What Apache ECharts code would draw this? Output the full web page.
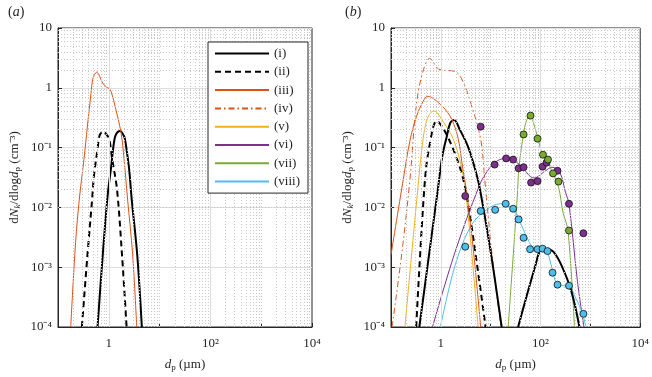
<!DOCTYPE html>
<html>
<head>
<meta charset="utf-8">
<script src="https://cdn.jsdelivr.net/npm/echarts@6/dist/echarts.min.js"></script>
<style>
  html, body { margin: 0; padding: 0; background: #fff; }
  #chart { width: 652px; height: 377px; }
</style>
</head>
<body>
<div id="chart"></div>
<script>
// ---- data: [d_p (um), dN/dlogdp (cm^-3)] ----
// panel (a)
const a_i = [[0.60, 1e-4], [0.76, 1.6e-3], [0.95, 0.016], [1.10, 0.044], [1.26, 0.12], [1.38, 0.166], [1.66, 0.19], [2.0, 0.155], [2.14, 0.12], [2.51, 0.044], [2.82, 0.0138], [3.63, 1.6e-3], [4.47, 1e-4]];
const a_ii = [[0.295, 1e-4], [0.38, 1.6e-3], [0.47, 0.0138], [0.51, 0.034], [0.60, 0.093], [0.66, 0.16], [0.78, 0.186], [0.90, 0.166], [1.02, 0.138], [1.17, 0.063], [1.45, 0.020], [1.82, 1.6e-3], [2.24, 1e-4]];
const a_iii = [[0.178, 1e-4], [0.222, 2.6e-3], [0.263, 0.0138], [0.324, 0.063], [0.38, 0.23], [0.447, 0.81], [0.49, 1.45], [0.575, 1.82], [0.76, 1.2], [0.87, 1.05], [1.0, 0.98], [1.12, 0.85], [1.38, 0.43], [1.74, 0.18], [2.0, 0.063], [2.34, 0.0138], [2.95, 1.6e-3], [3.55, 1e-4]];

// panel (b)
const b_i1 = [[0.37, 1e-4], [0.59, 1.8e-3], [0.89, 0.023], [1.07, 0.072], [1.32, 0.155], [1.55, 0.26], [1.85, 0.29], [2.4, 0.2], [3.47, 0.106], [4.68, 0.049], [5.9, 0.023], [10, 1.8e-3], [16.6, 1e-4]];
const b_i2 = [[35.5, 1e-4], [51, 3e-4], [79, 1.07e-3], [100, 1.9e-3], [135, 2.0e-3], [182, 1.8e-3], [263, 1.07e-3], [417, 3.9e-4], [603, 1e-4]];
const b_ii = [[0.32, 1e-4], [0.47, 0.023], [0.59, 0.106], [0.83, 0.28], [1.15, 0.2], [1.78, 0.093], [2.57, 0.039], [3.3, 0.016], [5.0, 1.6e-3], [7.9, 1e-4]];
const b_iii = [[0.1, 1.6e-3], [0.178, 0.031], [0.24, 0.13], [0.324, 0.33], [0.44, 0.59], [0.54, 0.72], [1.07, 0.49], [1.66, 0.295], [2.24, 0.138], [2.75, 0.045], [3.3, 0.018], [4.6, 1.6e-3], [6.3, 1e-4]];
const b_iv = [[0.105, 1e-4], [0.166, 1.8e-3], [0.24, 0.0295], [0.32, 0.49], [0.43, 1.78], [0.60, 3.1], [0.91, 2.05], [1.93, 1.87], [2.57, 1.45], [3.8, 0.63], [6.3, 0.138], [7.6, 0.029], [10.5, 1.8e-3], [16, 1e-4]];
const b_v = [[0.19, 1e-4], [0.35, 0.023], [0.44, 0.138], [0.54, 0.31], [0.72, 0.41], [1.15, 0.26], [1.78, 0.138], [2.57, 0.049], [3.1, 0.02], [4.2, 1.6e-3], [5.6, 1e-4]];
const b_vi = [[0.68, 1e-4], [1.93, 1.8e-3], [5.9, 0.023], [8.5, 0.04], [13.5, 0.06], [21, 0.066], [38, 0.052], [74, 0.031], [126, 0.041], [170, 0.047], [245, 0.038], [316, 0.018], [372, 0.0115], [550, 5.8e-4], [741, 1e-4]];
const b_vii = [[22.4, 1e-4], [33.9, 0.0138], [37.2, 0.049], [45.7, 0.17], [52, 0.28], [61.7, 0.343], [72, 0.26], [89, 0.141], [110, 0.074], [135, 0.06], [170, 0.04], [229, 0.022], [282, 8.3e-3], [355, 4.1e-3], [479, 1e-4]];
const b_viii = [[0.98, 1e-4], [1.93, 1.07e-3], [4.07, 5e-3], [8.5, 9.3e-3], [15.5, 0.0115], [21, 0.011], [30, 8.9e-3], [38, 6e-3], [51, 3.4e-3], [69, 2.2e-3], [100, 2.04e-3], [135, 1.78e-3], [170, 9.5e-4], [209, 5.4e-4], [282, 4.9e-4], [380, 4.7e-4], [513, 3.0e-4], [692, 1.7e-4], [813, 1e-4]];

// measured points, panel (b)
const pts_vi = [[6.3, 0.224], [3.09, 0.0155], [12.0, 0.052], [20.4, 0.066], [28.2, 0.063], [36.3, 0.045], [45.7, 0.047], [64.6, 0.026], [87.1, 0.0275], [110, 0.048], [132, 0.056], [219, 0.041], [372, 0.0115], [724, 3.7e-3]];
const pts_vii = [[45.7, 0.166], [63, 0.343], [87.1, 0.141], [112, 0.076], [141, 0.063], [178, 0.037], [229, 0.027], [372, 4.1e-3]];
const pts_viii = [[3.09, 2.2e-3], [6.3, 8.7e-3], [12.3, 9.1e-3], [20, 0.0115], [28.2, 9.5e-3], [36.3, 6.3e-3], [45.7, 3.1e-3], [61.7, 2.0e-3], [87.1, 2.0e-3], [110, 2.04e-3], [138, 1.86e-3], [174, 8.1e-4], [219, 5.1e-4], [372, 4.9e-4], [724, 1.66e-4]];

const legendNames = ["(i)", "(ii)", "(iii)", "(iv)", "(v)", "(vi)", "(vii)", "(viii)"];

// tick labels (by decade exponent) and grid decoration positions
const xTickText = { 0: "1", 2: "10\u00b2", 4: "10\u2074" };
const yTickText = { "-4": "10\u207b\u2074", "-3": "10\u207b\u00b3", "-2": "10\u207b\u00b2", "-1": "10\u207b\u00b9", 0: "1", 1: "10" };
const minorSteps = [2, 3, 4, 5, 6, 7, 8, 9];
const xDecades = [0.1, 1, 10, 100, 1000];
const yDecades = [1e-4, 1e-3, 1e-2, 1e-1, 1];
const xMajorLines = [1, 100];
const xMinorDecadeLines = [10, 1000];

const ORANGE = "#D95319", YELLOW = "#EDB120", PURPLE = "#7E2F8E", GREEN = "#77AC30", CYAN = "#4DBEEE";
const FONT = "'Liberation Serif', 'Times New Roman', serif";
const TXT = "#262626";

const rich = {
  t: { fontFamily: FONT, fontSize: 13, color: TXT },
  i: { fontFamily: FONT, fontSize: 13, color: TXT, fontStyle: "italic" },
  sub: { fontFamily: FONT, fontSize: 9, color: TXT, padding: [6, 0, 0, 0] },
  si: { fontFamily: FONT, fontSize: 9, color: TXT, fontStyle: "italic", padding: [6, 0, 0, 0] },
};

function expOf(v) { return Math.round(Math.log10(v)); }
function yLabel(v) { return yTickText[expOf(v)] || ""; }
function xLabel(v) { return xTickText[expOf(v)] || ""; }

function gridSeries(k) {
  const minorStyle = { color: "#c8c8c8", type: [1, 2], width: 1 };
  const majorStyle = { color: "#dedede", type: "solid", width: 1 };
  const lines = [];
  xDecades.forEach(d => minorSteps.forEach(m => lines.push({ xAxis: d * m, lineStyle: minorStyle })));
  xMinorDecadeLines.forEach(v => lines.push({ xAxis: v, lineStyle: minorStyle }));
  xMajorLines.forEach(v => lines.push({ xAxis: v, lineStyle: majorStyle }));
  yDecades.forEach(d => minorSteps.forEach(m => lines.push({ yAxis: d * m, lineStyle: minorStyle })));
  return {
    name: "grid" + k, type: "line", xAxisIndex: k, yAxisIndex: k, z: 0,
    data: [[1, 1]], showSymbol: false, symbol: "none", silent: true,
    lineStyle: { opacity: 0 },
    markLine: { silent: true, symbol: ["none", "none"], label: { show: false }, animation: false, data: lines },
  };
}

function curve(name, k, data, color, width, type) {
  return {
    name, type: "line", xAxisIndex: k, yAxisIndex: k, data, smooth: 0.35,
    symbol: "none", z: 3,
    lineStyle: { color, width, type: type || "solid" },
    itemStyle: { color },
  };
}
function points(name, data, color) {
  return {
    name, type: "scatter", xAxisIndex: 1, yAxisIndex: 1, data, z: 5,
    symbol: "circle", symbolSize: 7,
    itemStyle: { color, borderColor: "#111", borderWidth: 0.8, opacity: 1 },
  };
}

const DASH = [6, 4];
const DASHDOT = [6, 3, 1.5, 3];

const series = [
  gridSeries(0), gridSeries(1),
  curve("(i)", 0, a_i, "#000", 2),
  curve("(ii)", 0, a_ii, "#000", 2, DASH),
  curve("(iii)", 0, a_iii, ORANGE, 1),
  curve("(iv)", 1, b_iv, ORANGE, 1, DASHDOT),
  curve("(v)", 1, b_v, YELLOW, 1),
  curve("(vi)", 1, b_vi, PURPLE, 1),
  curve("(vii)", 1, b_vii, GREEN, 1),
  curve("(viii)", 1, b_viii, CYAN, 1),
  curve("(i)", 1, b_i1, "#000", 2),
  curve("(i)", 1, b_i2, "#000", 2),
  curve("(ii)", 1, b_ii, "#000", 2, DASH),
  curve("(iii)", 1, b_iii, ORANGE, 1),
  points("(vi) data", pts_vi, PURPLE),
  points("(vii) data", pts_vii, GREEN),
  points("(viii) data", pts_viii, CYAN),
];

const grids = [
  { left: 58, top: 28, width: 254, height: 301 },
  { left: 391, top: 28, width: 256, height: 301 },
];

const panelTitle = (label, left) => ({
  text: "({i|" + label + "})", left, top: 0,
  textStyle: { fontFamily: FONT, fontSize: 14, fontWeight: "normal", color: TXT,
    rich: { i: { fontFamily: FONT, fontSize: 14, fontStyle: "italic", color: TXT } } },
});

const chart = echarts.init(document.getElementById("chart"), null, { renderer: "canvas" });
chart.setOption({
  animation: false,
  backgroundColor: "#fff",
  title: [panelTitle("a", 3), panelTitle("b", 340)],
  grid: grids.map(g => Object.assign({ show: true, borderColor: TXT, borderWidth: 1, backgroundColor: "transparent" }, g)),
  legend: {
    data: legendNames, orient: "vertical", left: 208, top: 42,
    itemWidth: 54, itemHeight: 12, itemGap: 5.3,
    padding: [5, 8, 5, 6], borderColor: TXT, borderWidth: 1, backgroundColor: "#fff",
    itemStyle: { opacity: 0 },
    textStyle: { fontFamily: FONT, fontSize: 13, color: TXT },
    selectedMode: false, z: 10,
  },
  xAxis: [0, 1].map(k => ({
    type: "log", logBase: 10, gridIndex: k, min: 0.1, max: 10000, splitNumber: 5,
    axisLine: { show: true, lineStyle: { color: TXT } },
    axisTick: { show: true, inside: true, length: 4, lineStyle: { color: TXT } },
    splitLine: { show: false },
    axisLabel: { formatter: xLabel, fontFamily: FONT, fontSize: 13, color: TXT, margin: 10 },
    name: "{i|d}{sub|p}{t| (\u00b5m)}", nameLocation: "middle", nameGap: 30,
    nameTextStyle: { rich },
  })),
  yAxis: [0, 1].map(k => ({
    type: "log", logBase: 10, gridIndex: k, min: 1e-4, max: 10, splitNumber: 5,
    axisLine: { show: true, lineStyle: { color: TXT } },
    axisTick: { show: true, inside: true, length: 4, lineStyle: { color: TXT } },
    splitLine: { show: true, lineStyle: { color: "#dedede", width: 1 } },
    axisLabel: { formatter: yLabel, fontFamily: FONT, fontSize: 13, color: TXT, margin: 6, padding: [8, 0, 0, 0] },
    name: "{t|d}{i|N}{si|k}{t|/dlog}{i|d}{sub|p}{t| (cm\u207b\u00b3)}",
    nameLocation: "middle", nameGap: 36, nameRotate: 90,
    nameTextStyle: { rich },
  })),
  series,
});
</script>
</body>
</html>
